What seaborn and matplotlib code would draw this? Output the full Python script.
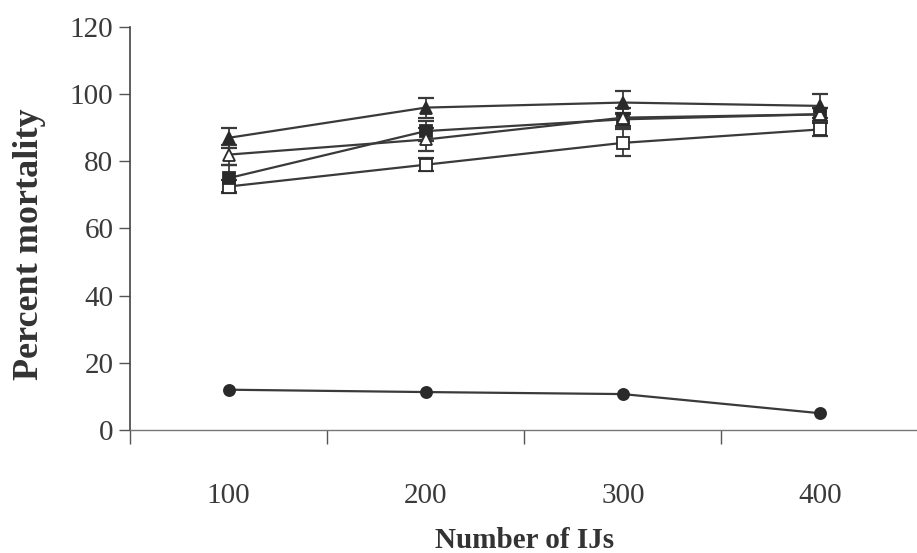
import numpy as np
import pandas as pd
import matplotlib
matplotlib.use("Agg")
import matplotlib.pyplot as plt
import seaborn as sns

# values
ijs = [100, 200, 300, 400]
tri_filled = [87, 96, 97.5, 96.5]
tri_filled_err = [3, 3, 3.5, 3.5]
tri_open = [82, 86.5, 93, 94]
tri_open_err = [3, 3.3, 3, 2]
sq_filled = [75, 89, 92.5, 94]
sq_filled_err = [4, 3, 2, 2]
sq_open = [72.5, 79, 85.5, 89.5]
sq_open_err = [2, 2, 4, 2]
circle = [12, 11.3, 10.7, 5]

sns.set_style("ticks")
plt.rcParams['font.family'] = ['Liberation Serif', 'DejaVu Serif']

series = [
    ("circle", circle, None, "o", "#2a2a2a"),
    ("sq_open", sq_open, sq_open_err, "s", "white"),
    ("sq_filled", sq_filled, sq_filled_err, "s", "#2a2a2a"),
    ("tri_open", tri_open, tri_open_err, "^", "white"),
    ("tri_filled", tri_filled, tri_filled_err, "^", "#2a2a2a"),
]

rows = []
for name, vals, err, m, fc in series:
    for x, v in zip(ijs, vals):
        rows.append({"ijs": x, "mort": v, "grp": name})
df = pd.DataFrame(rows)

fig = plt.figure(figsize=(9.17, 5.53), dpi=100)
ax = fig.add_axes([0.1418, 0.2224, 0.86, 0.7288])

line_col = "#3a3a3a"
for name, vals, err, m, fc in series:
    sub = df[df.grp == name]
    if err is not None:
        ax.errorbar(ijs, vals, yerr=err, fmt="none", ecolor=line_col,
                    elinewidth=1.3, capsize=6, capthick=1.6, zorder=2)
    sns.lineplot(data=sub, x="ijs", y="mort", ax=ax, color=line_col,
                 linewidth=1.6, marker=m, markersize=9 if m != "o" else 8,
                 markerfacecolor=fc, markeredgecolor="#2a2a2a",
                 markeredgewidth=1.3, zorder=3, legend=False)

ax.set_xlim(50, 450)
ax.set_ylim(0, 120)
ax.set_yticks(np.arange(0, 121, 20))
ax.set_xticks(ijs)
ax.set_xticklabels([str(v) for v in ijs])
ax.set_xticks([50, 150, 250, 350, 450], minor=True)
ax.tick_params(axis="x", which="major", length=0, pad=38, labelsize=21,
               labelcolor="#3a3a3a")
ax.tick_params(axis="x", which="minor", length=10, width=1, color="#555555")
ax.tick_params(axis="y", length=8, width=1, pad=4, labelsize=21,
               labelcolor="#3a3a3a", color="#555555")

sns.despine(ax=ax)
ax.spines["left"].set_color("#444444")
ax.spines["bottom"].set_color("#777777")
ax.spines["left"].set_linewidth(1.2)
ax.spines["bottom"].set_linewidth(1.0)

ax.set_xlabel("Number of IJs", fontsize=21, fontweight="bold",
              color="#333333", va="center")
ax.xaxis.set_label_coords(0.5, -0.275)
ax.set_ylabel("Percent mortality", fontsize=26, fontweight="bold",
              color="#333333", va="center")
ax.yaxis.set_label_coords(-0.128, 0.46)

fig.savefig("out.png", dpi=100)
